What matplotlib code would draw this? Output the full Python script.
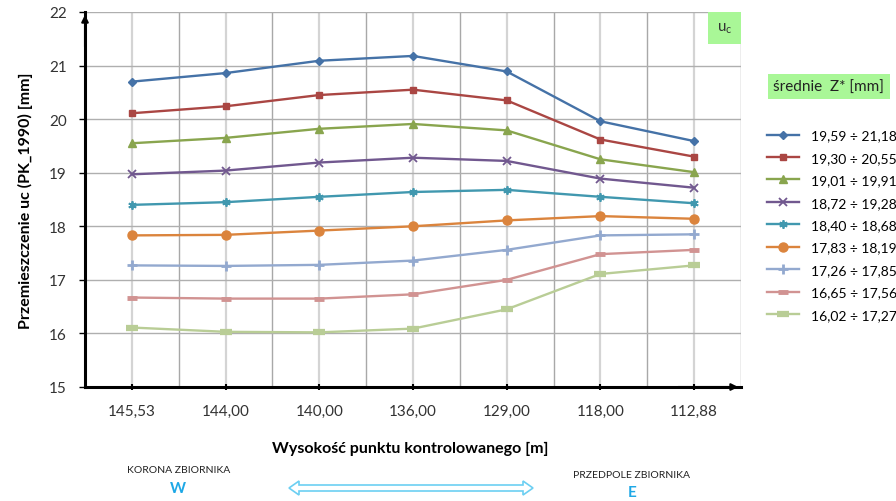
import numpy as np
import matplotlib.pyplot as plt
from matplotlib.patches import Polygon

plt.rcParams['font.family'] = ['Lato', 'DejaVu Sans']

# wysokości punktów kontrolowanych (kolejne punkty profilu)
heights = ['145,53', '144,00', '140,00', '136,00', '129,00', '118,00', '112,88']

# przemieszczenia uc [mm] dla kolejnych klas średnich Z*
s1 = [20.70, 20.86, 21.09, 21.18, 20.89, 19.96, 19.59]
s2 = [20.11, 20.24, 20.45, 20.55, 20.35, 19.62, 19.30]
s3 = [19.55, 19.65, 19.82, 19.91, 19.79, 19.25, 19.01]
s4 = [18.97, 19.04, 19.19, 19.28, 19.22, 18.89, 18.72]
s5 = [18.40, 18.45, 18.55, 18.64, 18.68, 18.55, 18.43]
s6 = [17.83, 17.84, 17.92, 18.00, 18.11, 18.19, 18.14]
s7 = [17.27, 17.26, 17.28, 17.36, 17.56, 17.83, 17.85]
s8 = [16.67, 16.65, 16.65, 16.73, 17.00, 17.48, 17.56]
s9 = [16.11, 16.03, 16.02, 16.09, 16.45, 17.11, 17.27]

labels = ['19,59 ÷ 21,18', '19,30 ÷ 20,55', '19,01 ÷ 19,91', '18,72 ÷ 19,28',
          '18,40 ÷ 18,68', '17,83 ÷ 18,19', '17,26 ÷ 17,85', '16,65 ÷ 17,56',
          '16,02 ÷ 17,27']

series = [s1, s2, s3, s4, s5, s6, s7, s8, s9]
colors = ['#4572A7', '#AA4643', '#89A54E', '#71588F', '#4198AF',
          '#DB843D', '#93A9CF', '#D19392', '#B9CD96']
markers = ['D', 's', '^', 'x', (6, 2, 0), 'o', '+', '_', '_']
msizes = [4.5, 5, 6, 6, 6, 6.5, 7, 7, 9]
mews = [1, 1, 1, 1.3, 1.3, 1, 2, 3.5, 4.5]

fig = plt.figure(figsize=(8.96, 5.02), dpi=100)
ax = fig.add_axes([85 / 896, 114 / 502, 656 / 896, 375 / 502])

x = np.arange(len(heights))

# siatka: linie w punktach i pomiędzy nimi
for xi in x:
    ax.axvline(xi, color='#D4D4D4', lw=1.6, zorder=0)
for xi in np.arange(0.5, len(heights), 1.0):
    ax.axvline(xi, color='#A8A8A8', lw=1.0, zorder=0)
for yi in range(16, 23):
    ax.axhline(yi, color='#AFAFAF', lw=1.0, zorder=0)

for ys, c, m, ms, mw, lab in zip(series, colors, markers, msizes, mews, labels):
    ax.plot(x, ys, color=c, lw=1.7, marker=m, ms=ms, mew=mw, mec=c, mfc=c,
            label=lab, zorder=3)

ax.set_xlim(-0.5, len(heights) - 0.5)
ax.set_ylim(15, 22)
ax.set_xticks(x)
ax.set_xticklabels(heights, fontsize=11, color='#333333')
ax.set_yticks(range(15, 23))
ax.set_yticklabels([str(v) for v in range(15, 23)], fontsize=11, color='#333333')
ax.tick_params(axis='x', direction='inout', length=5, width=1.5, pad=10)
ax.tick_params(axis='y', direction='out', length=4, width=1, pad=9)

for sp in ['top', 'right']:
    ax.spines[sp].set_visible(False)
ax.spines['left'].set_linewidth(2.2)
ax.spines['bottom'].set_linewidth(2.2)

# strzałki na osiach
ax.annotate('', xy=(0, 1.0), xytext=(0, 0.9), xycoords='axes fraction',
            arrowprops=dict(arrowstyle='-|>', color='black', lw=1.5,
                            mutation_scale=10), annotation_clip=False)
ax.annotate('', xy=(1.0, 0), xytext=(0.9, 0), xycoords='axes fraction',
            arrowprops=dict(arrowstyle='-|>', color='black', lw=1.5,
                            mutation_scale=10), annotation_clip=False)

ax.set_ylabel('Przemieszczenie uc (PK_1990) [mm]', fontsize=11.5,
              fontweight='bold', labelpad=12)
fig.text(0.458, 0.105, 'Wysokość punktu kontrolowanego [m]', fontsize=11.5,
         fontweight='bold', ha='center', va='center')

# oznaczenie składowej
ax.text(0.975, 0.958, r'u$_\mathregular{c}$', transform=ax.transAxes,
        fontsize=11, ha='center', va='center', color='#333333',
        bbox=dict(boxstyle='square,pad=0.55', fc='#A9F797', ec='none'))

leg = fig.legend(loc='upper left', bbox_to_anchor=(0.842, 0.765),
                 frameon=False, fontsize=10, handlelength=2.3,
                 labelspacing=0.75, handletextpad=0.9)
fig.text(0.925, 0.825, 'średnie  Z* [mm]', fontsize=11, ha='center',
         va='center', color='#222222',
         bbox=dict(boxstyle='square,pad=0.35', fc='#A9F797', ec='none'))

# opis kierunków pod osią
fig.text(0.199, 0.062, 'KORONA ZBIORNIKA', fontsize=7.5, ha='center',
         va='center', color='#222222')
fig.text(0.199, 0.026, 'W', fontsize=11, fontweight='bold', ha='center',
         va='center', color='#1EA8E6')
fig.text(0.705, 0.052, 'PRZEDPOLE ZBIORNIKA', fontsize=7.5, ha='center',
         va='center', color='#222222')
fig.text(0.705, 0.018, 'E', fontsize=11, fontweight='bold', ha='center',
         va='center', color='#1EA8E6')

x0, x1, yc = 289, 533, 489
hw, sh, hl = 7, 3, 10
pts = [(x0, yc), (x0 + hl, yc + hw), (x0 + hl, yc + sh), (x1 - hl, yc + sh),
       (x1 - hl, yc + hw), (x1, yc), (x1 - hl, yc - hw), (x1 - hl, yc - sh),
       (x0 + hl, yc - sh), (x0 + hl, yc - hw)]
pts = [(px / 896, 1 - py / 502) for px, py in pts]
fig.patches.append(Polygon(pts, closed=True, fc='white', ec='#6CCFF2',
                           lw=1.2, transform=fig.transFigure, figure=fig))

fig.savefig('out.png', dpi=100)
